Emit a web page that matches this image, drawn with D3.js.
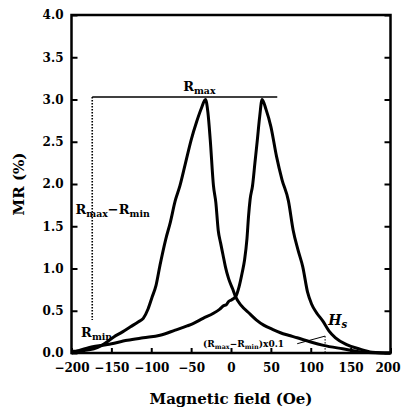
<!DOCTYPE html>
<html>
<head>
<meta charset="utf-8">
<style>
  body { margin: 0; background: #fff; }
  svg { display: block; }
  .tick text { font-family: "DejaVu Serif", serif; font-weight: bold; font-size: 12px; fill: #000; }
  .note { font-family: "DejaVu Serif", serif; font-weight: bold; fill: #000; }
</style>
</head>
<body>
<div id="chart"></div>
<script src="https://cdnjs.cloudflare.com/ajax/libs/d3/7.8.5/d3.min.js"></script>
<script>
  // sweep 1 (peak on the negative side), MR in %
  const fieldA = [-200, -185, -172, -162, -147, -136, -126, -116, -110, -104, -99, -94, -89, -82, -76, -70, -64, -57, -50, -43, -37, -32,
                  -29, -26, -22, -19, -16, -13, -10, -7, -3, 2, 6, 13, 24, 32, 41, 52, 62, 72, 83, 100, 116, 140, 166, 200];
  const mrA = [0.02, 0.03, 0.05, 0.09, 0.19, 0.25, 0.31, 0.37, 0.41, 0.52, 0.66, 0.80, 1.04, 1.34, 1.55, 1.80, 1.98, 2.25, 2.52, 2.74, 2.90, 3.00,
               2.85, 2.52, 1.98, 1.78, 1.45, 1.30, 1.16, 1.02, 0.88, 0.76, 0.66, 0.56, 0.46, 0.39, 0.33, 0.28, 0.24, 0.21, 0.18, 0.13, 0.09, 0.05, 0.01, 0.0];

  // sweep 2 (peak on the positive side)
  const fieldB = [-200, -190, -175, -155, -130, -110, -89, -70, -55, -47, -35, -22, -14, -9, -6, -3, 1, 6, 10, 14, 17, 20, 22, 24, 27, 30, 33, 36, 39,
                  44, 50, 57, 64, 72, 78, 84, 90, 96, 101, 107, 115, 123, 131, 145, 160, 177, 200];
  const mrB = [0.0, 0.03, 0.07, 0.10, 0.15, 0.18, 0.21, 0.27, 0.32, 0.35, 0.41, 0.47, 0.52, 0.56, 0.57, 0.61, 0.63, 0.67, 0.78, 0.95, 1.10, 1.35, 1.62, 1.82, 1.98, 2.25, 2.52, 2.80, 3.00,
               2.88, 2.68, 2.33, 2.05, 1.80, 1.45, 1.22, 1.02, 0.72, 0.58, 0.48, 0.38, 0.26, 0.18, 0.10, 0.05, 0.01, 0.0];

  const xTicks = [-200, -150, -100, -50, 0, 50, 100, 150, 200];
  const yTicks = [0, 0.5, 1, 1.5, 2, 2.5, 3, 3.5, 4];

  // annotation guides, in data units
  const rmaxLine = [[-174, 3.03], [58, 3.03]];
  const rangeDrop = [[-174, 3.03], [-174, 0.39]];
  const tenthLine = [[83, 0.11], [118, 0.2]];
  const hsDrop = [[118, 0.2], [118, 0]];

  const width = 402, height = 415;
  const margin = {top: 15, right: 11.5, bottom: 62, left: 71.5};

  const x = d3.scaleLinear().domain([-200, 200]).range([margin.left, width - margin.right]);
  const y = d3.scaleLinear().domain([0, 4]).range([height - margin.bottom, margin.top]);

  const svg = d3.create("svg")
    .attr("width", width)
    .attr("height", height)
    .attr("viewBox", [0, 0, width, height]);

  // axes, ticks pointing inward
  svg.append("g")
    .attr("transform", `translate(${margin.left},0)`)
    .call(d3.axisLeft(y).tickValues(yTicks).tickFormat(d3.format(".1f")).tickSize(-6).tickPadding(8))
    .call(g => g.select(".domain").remove())
    .call(g => g.selectAll("line").attr("stroke-width", 2));

  svg.append("g")
    .attr("transform", `translate(0,${height - margin.bottom})`)
    .call(d3.axisBottom(x).tickValues(xTicks).tickSize(-5).tickPadding(10))
    .call(g => g.select(".domain").remove())
    .call(g => g.selectAll("line").attr("stroke-width", 2))
    // the last label sits a little inside the page edge
    .call(g => g.selectAll("text").filter(d => d === 200).attr("dx", -3));

  svg.append("g")
    .attr("transform", `translate(${width - margin.right},0)`)
    .call(d3.axisRight(y).tickValues(yTicks).tickFormat("").tickSize(-6))
    .call(g => g.select(".domain").remove())
    .call(g => g.selectAll("line").attr("stroke-width", 2));

  // frame
  svg.append("rect")
    .attr("x", x(-200))
    .attr("y", y(4))
    .attr("width", x(200) - x(-200))
    .attr("height", y(0) - y(4))
    .attr("fill", "none")
    .attr("stroke", "#000")
    .attr("stroke-width", 2.5);

  // guides
  const guide = d3.line().x(d => x(d[0])).y(d => y(d[1]));
  svg.append("path").attr("d", guide(rmaxLine)).attr("stroke", "#000").attr("stroke-width", 1.5).attr("fill", "none");
  svg.append("path").attr("d", guide(rangeDrop)).attr("stroke", "#000").attr("stroke-width", 1.6)
    .attr("stroke-dasharray", "1.5,1.5").attr("fill", "none");
  svg.append("path").attr("d", guide(tenthLine)).attr("stroke", "#000").attr("stroke-width", 1).attr("fill", "none");
  svg.append("path").attr("d", guide(hsDrop)).attr("stroke", "#000").attr("stroke-width", 1)
    .attr("stroke-dasharray", "1.5,1.5").attr("fill", "none");

  // the two sweeps
  const line = d3.line()
    .x(d => x(d[0]))
    .y(d => y(d[1]))
    .curve(d3.curveMonotoneX);

  [[fieldA, mrA], [fieldB, mrB]].forEach(([f, m]) => {
    svg.append("path")
      .attr("d", line(f.map((v, i) => [v, m[i]])))
      .attr("fill", "none")
      .attr("stroke", "#000")
      .attr("stroke-width", 3)
      .attr("stroke-linejoin", "round");
  });

  // labels with subscripts
  function label(parts, hx, mr, size, italic) {
    const t = svg.append("text")
      .attr("class", "note")
      .attr("x", x(hx))
      .attr("y", y(mr))
      .attr("font-size", size)
      .attr("font-style", italic ? "italic" : null);
    let shift = 0;
    parts.forEach(([s, sub]) => {
      const want = sub ? Math.round(size * 0.2) : 0;
      t.append("tspan")
        .attr("font-size", sub ? size * 0.72 : size)
        .attr("dy", want - shift)
        .text(s);
      shift = want;
    });
  }

  label([["R"], ["max", true]], -60, 3.1, 13);
  label([["R"], ["max", true], ["\u2212R"], ["min", true]], -195, 1.65, 13);
  label([["R"], ["min", true]], -188, 0.19, 13);
  label([["H"], ["s", true]], 122, 0.33, 14, true);
  label([["(R"], ["max", true], ["\u2212R"], ["min", true], [")x0.1"]], -35, 0.07, 9);

  // axis titles
  svg.append("text")
    .attr("class", "note")
    .attr("x", x(0))
    .attr("y", 404)
    .attr("text-anchor", "middle")
    .attr("font-size", 15)
    .text("Magnetic field (Oe)");

  svg.append("text")
    .attr("class", "note")
    .attr("transform", `translate(24,${(y(0) + y(4)) / 2}) rotate(-90)`)
    .attr("text-anchor", "middle")
    .attr("font-size", 15)
    .text("MR (%)");

  d3.select("#chart").node().appendChild(svg.node());
</script>
</body>
</html>
